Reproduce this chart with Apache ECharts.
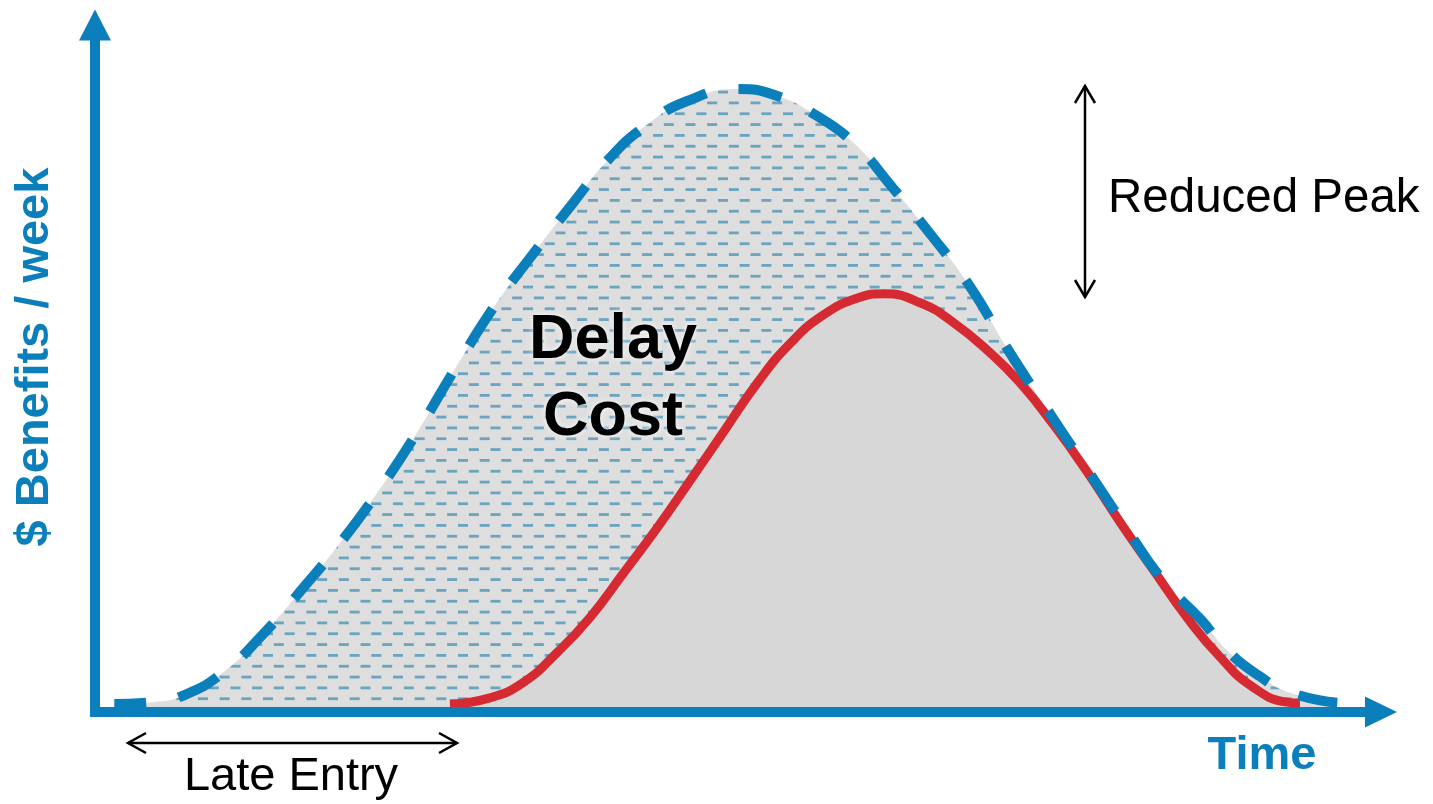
<!DOCTYPE html>
<html>
<head>
<meta charset="utf-8">
<title>Cost of Delay</title>
<script src="https://cdn.jsdelivr.net/npm/echarts@6/dist/echarts.min.js"></script>
<style>
  html, body { margin: 0; padding: 0; background: #ffffff; }
  #chart { width: 1433px; height: 804px; }
</style>
</head>
<body>
<div id="chart"></div>
<script>
// Benefit curve when the product ships on time (time in weeks, benefit as % of peak)
const onTimeWeeks = [1.5, 4.5, 7, 10, 13, 16, 19, 22, 25, 28, 31, 34, 37, 40, 43, 46, 50,
  53, 56, 59, 62, 65, 68, 71, 74, 77, 80, 83, 86, 88, 90.5, 93, 96.6];
const onTimeBenefit = [0, 0.3, 1.5, 5.2, 11.2, 18.4, 26, 34.5, 44, 54.5, 64.5, 73, 81, 88.7, 94.3, 98, 100,
  98.9, 95.8, 91.2, 84, 76.3, 68, 57.6, 48, 38.6, 29.2, 20.2, 13.7, 8.8, 4.6, 1.8, 0.2];

// Benefit curve when the product enters the market late
const lateWeeks = [27.6, 30.7, 33.3, 35.9, 38.5, 41.1, 43.7, 46.3, 48.8, 51.5, 54, 56.6, 59.3, 61.4,
  64.2, 66.7, 69.4, 71.9, 74.5, 77.1, 79.7, 82.3, 84.9, 87.5, 90, 92.7, 93.7];
const lateBenefit = [0, 1, 3.5, 8.3, 14.1, 21.3, 28.6, 36.4, 44, 52.2, 58.5, 63.2, 66, 66.7,
  65.2, 62.1, 57.5, 52.3, 45.5, 37.9, 29.6, 21.8, 14.1, 7.6, 2.8, 0.3, 0.15];

// Text shown on the chart
const axisTitleY = '$ Benefits / week';
const axisTitleX = 'Time';
const areaLabel = 'Delay\nCost';
const peakLabel = 'Reduced Peak';
const entryLabel = 'Late Entry';

const BLUE = '#0b7fbb';
const RED = '#d62a32';

function zip(xs, ys) { return xs.map((x, i) => [x, ys[i]]); }

// Grey tile with staggered short blue dashes used for the delay-cost area
function makeHatch() {
  const size = 65;
  const c = document.createElement('canvas');
  c.width = size; c.height = size;
  const ctx = c.getContext('2d');
  ctx.fillStyle = '#dedede';
  ctx.fillRect(0, 0, size, size);
  ctx.fillStyle = '#6aa4c1';
  const rowStep = size / 6, colStep = size / 3;
  for (let r = 0; r < 6; r++) {
    const y = r * rowStep + 4;
    const shift = (r % 2) * (colStep / 2);
    for (let k = -1; k < 4; k++) {
      const x = k * colStep + shift + 3;
      ctx.fillRect(x, y, 10, 2.8);
    }
  }
  return c;
}

const chart = echarts.init(document.getElementById('chart'), null, { renderer: 'canvas' });

const option = {
  animation: false,
  backgroundColor: '#ffffff',
  grid: { left: 95, right: 52, top: 25, bottom: 92, outerBoundsMode: 'none' },
  xAxis: {
    type: 'value', min: 0, max: 100, z: 10,
    axisLine: {
      onZero: false,
      symbol: ['none', 'triangle'], symbolSize: [31, 32],
      lineStyle: { color: BLUE, width: 10, cap: 'square' }
    },
    axisTick: { show: false }, axisLabel: { show: false }, splitLine: { show: false }
  },
  yAxis: {
    type: 'value', min: -1.3, max: 110.4, z: 10,
    axisLine: {
      show: true, onZero: false,
      symbol: ['none', 'triangle'], symbolSize: [32, 31],
      lineStyle: { color: BLUE, width: 10, cap: 'square' }
    },
    axisTick: { show: false }, axisLabel: { show: false }, splitLine: { show: false }
  },
  series: [
    {
      name: 'on-time area', type: 'line', z: 1,
      data: zip(onTimeWeeks, onTimeBenefit),
      smooth: 0.5, symbol: 'none',
      lineStyle: { width: 0, opacity: 0 },
      areaStyle: { origin: 'start', opacity: 1, color: { image: makeHatch(), repeat: 'repeat' } }
    },
    {
      name: 'late entry', type: 'line', z: 2,
      data: zip(lateWeeks, lateBenefit),
      smooth: 0.5, symbol: 'none',
      lineStyle: { color: RED, width: 9, cap: 'butt' },
      areaStyle: { origin: 'start', opacity: 1, color: '#d7d7d7' }
    },
    {
      name: 'on time', type: 'line', z: 3,
      data: zip(onTimeWeeks, onTimeBenefit),
      smooth: 0.5, symbol: 'none',
      lineStyle: { color: BLUE, width: 10, type: [44, 33], dashOffset: 12, cap: 'butt' }
    }
  ],
  graphic: [
    // y axis title
    {
      type: 'text', x: 35, y: 357, rotation: Math.PI / 2, z: 20,
      style: {
        text: axisTitleY, fill: BLUE,
        font: 'bold 47px "Liberation Sans", Arial, sans-serif',
        align: 'center', verticalAlign: 'middle', textAlign: 'center', textVerticalAlign: 'middle'
      }
    },
    // x axis title
    {
      type: 'text', x: 1262, y: 756, z: 20,
      style: {
        text: axisTitleX, fill: BLUE,
        font: 'bold 47px "Liberation Sans", Arial, sans-serif',
        align: 'center', verticalAlign: 'middle', textAlign: 'center', textVerticalAlign: 'middle'
      }
    },
    // label inside the area between the curves
    {
      type: 'text', x: 613, y: 379, z: 20,
      style: {
        text: areaLabel, fill: '#000000',
        font: 'bold 63px "Liberation Sans", Arial, sans-serif', lineHeight: 77,
        align: 'center', verticalAlign: 'middle', textAlign: 'center', textVerticalAlign: 'middle',
        shadowColor: 'rgba(255,255,255,0.9)', shadowBlur: 6,
        textShadowColor: 'rgba(255,255,255,0.9)', textShadowBlur: 6
      }
    },
    // reduced peak annotation
    {
      type: 'group', z: 20,
      children: [
        { type: 'line', shape: { x1: 1085, y1: 86, x2: 1085, y2: 297 }, style: { stroke: '#000', lineWidth: 2.5 } },
        { type: 'polyline', shape: { points: [[1075, 103], [1085, 86], [1095, 103]] }, style: { stroke: '#000', lineWidth: 2.5, fill: null } },
        { type: 'polyline', shape: { points: [[1075, 280], [1085, 297], [1095, 280]] }, style: { stroke: '#000', lineWidth: 2.5, fill: null } }
      ]
    },
    {
      type: 'text', x: 1108, y: 199, z: 20,
      style: {
        text: peakLabel, fill: '#000000',
        font: '47.5px "Liberation Sans", Arial, sans-serif',
        align: 'left', verticalAlign: 'middle', textAlign: 'left', textVerticalAlign: 'middle'
      }
    },
    // late entry annotation
    {
      type: 'group', z: 20,
      children: [
        { type: 'line', shape: { x1: 128, y1: 743, x2: 457, y2: 743 }, style: { stroke: '#000', lineWidth: 2.5 } },
        { type: 'polyline', shape: { points: [[146, 733], [128, 743], [146, 753]] }, style: { stroke: '#000', lineWidth: 2.5, fill: null } },
        { type: 'polyline', shape: { points: [[439, 733], [457, 743], [439, 753]] }, style: { stroke: '#000', lineWidth: 2.5, fill: null } }
      ]
    },
    {
      type: 'text', x: 291, y: 777, z: 20,
      style: {
        text: entryLabel, fill: '#000000',
        font: '47px "Liberation Sans", Arial, sans-serif',
        align: 'center', verticalAlign: 'middle', textAlign: 'center', textVerticalAlign: 'middle'
      }
    }
  ]
};

chart.setOption(option);
</script>
</body>
</html>
